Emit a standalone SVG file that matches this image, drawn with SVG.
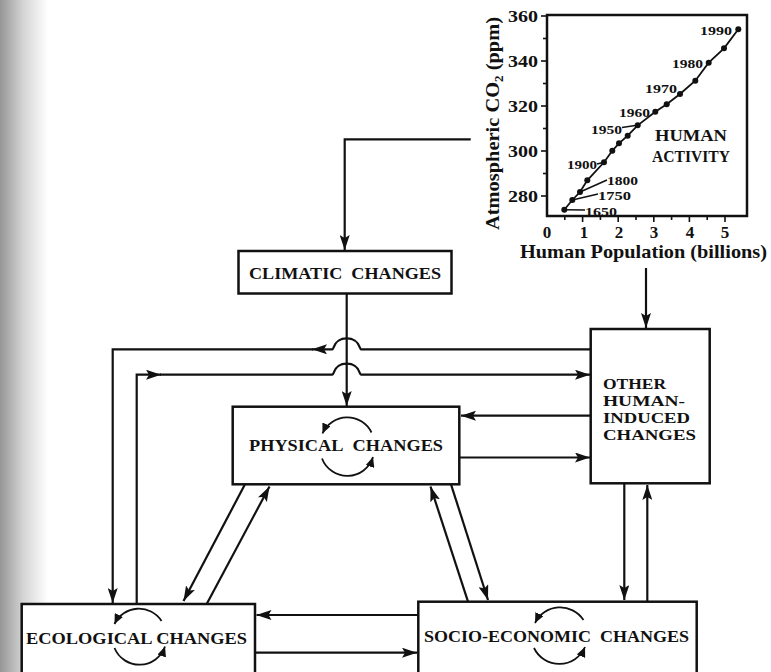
<svg xmlns="http://www.w3.org/2000/svg" width="771" height="672" viewBox="0 0 771 672">
<defs>
<linearGradient id="edge" x1="0" y1="0" x2="1" y2="0">
<stop offset="0" stop-color="#969696"/>
<stop offset="0.5" stop-color="#d6d6d6"/>
<stop offset="1" stop-color="#ffffff"/>
</linearGradient>
<marker id="ah" viewBox="0 0 15 10" refX="15" refY="5" markerWidth="15" markerHeight="10" markerUnits="userSpaceOnUse" orient="auto">
<path d="M0,0 L15,5 L0,10 L3,5 z" fill="#111"/>
</marker>
<marker id="sh" viewBox="0 0 10 9" refX="10" refY="4.5" markerWidth="10" markerHeight="9" markerUnits="userSpaceOnUse" orient="auto">
<path d="M0,0 L10,4.5 L0,9 z" fill="#111"/>
</marker>
</defs>
<style>
.box{fill:#fff;stroke:#111;stroke-width:2.5}
.lbl{font-family:"Liberation Serif","Times New Roman",serif;font-weight:bold;font-size:17px;fill:#111}
.olbl{font-family:"Liberation Serif","Times New Roman",serif;font-weight:bold;font-size:14.5px;fill:#111}
.ch{font-family:"Liberation Serif","Times New Roman",serif;font-weight:bold;fill:#111}
.a{fill:none;stroke:#111;stroke-width:2.2;marker-end:url(#ah)}
.loop{fill:none;stroke:#111;stroke-width:1.8;marker-end:url(#sh)}
.ax{fill:none;stroke:#111;stroke-width:2.5}
.tk{stroke:#111;stroke-width:1.6}
.dot{fill:#111}
</style>
<rect x="0" y="0" width="771" height="672" fill="#fff"/>
<rect x="0" y="0" width="48" height="672" fill="url(#edge)"/>

<g id="chart">
<rect class="ax" x="547" y="15" width="200" height="201"/>
<g class="tk">
<line x1="541" y1="16" x2="547" y2="16"/><line x1="543" y1="38.5" x2="547" y2="38.5"/>
<line x1="541" y1="61" x2="547" y2="61"/><line x1="543" y1="83.5" x2="547" y2="83.5"/>
<line x1="541" y1="106" x2="547" y2="106"/><line x1="543" y1="128.5" x2="547" y2="128.5"/>
<line x1="541" y1="151" x2="547" y2="151"/><line x1="543" y1="173.5" x2="547" y2="173.5"/>
<line x1="541" y1="196" x2="547" y2="196"/>
<line x1="582.6" y1="216" x2="582.6" y2="222"/><line x1="618.2" y1="216" x2="618.2" y2="222"/>
<line x1="653.8" y1="216" x2="653.8" y2="222"/><line x1="689.4" y1="216" x2="689.4" y2="222"/>
<line x1="725" y1="216" x2="725" y2="222"/>
<line x1="564.8" y1="216" x2="564.8" y2="220"/><line x1="600.4" y1="216" x2="600.4" y2="220"/>
<line x1="636" y1="216" x2="636" y2="220"/><line x1="671.6" y1="216" x2="671.6" y2="220"/>
<line x1="707.2" y1="216" x2="707.2" y2="220"/>
</g>
<g class="ch" font-size="17" text-anchor="end">
<text x="538" y="21.5" textLength="30" lengthAdjust="spacingAndGlyphs">360</text>
<text x="538" y="66.5" textLength="30" lengthAdjust="spacingAndGlyphs">340</text>
<text x="538" y="111.5" textLength="30" lengthAdjust="spacingAndGlyphs">320</text>
<text x="538" y="156.5" textLength="30" lengthAdjust="spacingAndGlyphs">300</text>
<text x="538" y="201.5" textLength="30" lengthAdjust="spacingAndGlyphs">280</text>
</g>
<g class="ch" font-size="17" text-anchor="middle">
<text x="547" y="237.5">0</text>
<text x="584" y="237.5">1</text>
<text x="619" y="237.5">2</text>
<text x="654" y="237.5">3</text>
<text x="690" y="237.5">4</text>
<text x="725" y="237.5">5</text>
</g>
<text class="ch" font-size="19" x="520" y="257.5" textLength="247" lengthAdjust="spacingAndGlyphs">Human Population (billions)</text>
<text class="ch" font-size="19" transform="translate(499,230) rotate(-90)" textLength="213" lengthAdjust="spacingAndGlyphs">Atmospheric CO<tspan font-size="12" dy="4">2</tspan><tspan dy="-4"> (ppm)</tspan></text>
<text class="ch" font-size="17" x="655" y="141" textLength="72" lengthAdjust="spacingAndGlyphs">HUMAN</text>
<text class="ch" font-size="17" x="652" y="161.5" textLength="78" lengthAdjust="spacingAndGlyphs">ACTIVITY</text>
<polyline fill="none" stroke="#111" stroke-width="1.8" points="564.3,209.7 572.3,200 580,192 587.3,180.3 604,162.3 612.3,150.7 619,143.3 627.7,135.7 637.7,125.3 655.3,111.7 666.7,104.3 680,94 695.3,80.7 708.7,62.7 724,48.3 738.3,29.3"/>
<g class="dot">
<circle cx="564.3" cy="209.7" r="3"/><circle cx="572.3" cy="200" r="3"/><circle cx="580" cy="192" r="3"/>
<circle cx="587.3" cy="180.3" r="3"/><circle cx="604" cy="162.3" r="3"/><circle cx="612.3" cy="150.7" r="3"/>
<circle cx="619" cy="143.3" r="3"/><circle cx="627.7" cy="135.7" r="3"/><circle cx="637.7" cy="125.3" r="3"/>
<circle cx="655.3" cy="111.7" r="3"/><circle cx="666.7" cy="104.3" r="3"/><circle cx="680" cy="94" r="3"/>
<circle cx="695.3" cy="80.7" r="3"/><circle cx="708.7" cy="62.7" r="3"/><circle cx="724" cy="48.3" r="3"/>
<circle cx="738.3" cy="29.3" r="3"/>
</g>
<g stroke="#111" stroke-width="1.4">
<line x1="622" y1="127.5" x2="637" y2="125.3"/>
<line x1="597" y1="164" x2="604" y2="162.3"/>
<line x1="580" y1="192" x2="607" y2="180"/>
<line x1="572.3" y1="200" x2="598" y2="194"/>
<line x1="564.3" y1="209.7" x2="585" y2="210"/>
</g>
<g class="ch" font-size="13.5">
<text x="700" y="35" textLength="32" lengthAdjust="spacingAndGlyphs">1990</text>
<text x="672" y="68" textLength="31" lengthAdjust="spacingAndGlyphs">1980</text>
<text x="645" y="92.5" textLength="32" lengthAdjust="spacingAndGlyphs">1970</text>
<text x="619" y="116.5" textLength="31" lengthAdjust="spacingAndGlyphs">1960</text>
<text x="591" y="133.5" textLength="31" lengthAdjust="spacingAndGlyphs">1950</text>
<text x="567" y="168.5" textLength="30" lengthAdjust="spacingAndGlyphs">1900</text>
<text x="607" y="184.5" textLength="31" lengthAdjust="spacingAndGlyphs">1800</text>
<text x="598" y="200" textLength="33" lengthAdjust="spacingAndGlyphs">1750</text>
<text x="585" y="215.5" textLength="32" lengthAdjust="spacingAndGlyphs">1650</text>
</g>
</g>

<g id="climatic">
<rect class="box" x="238.5" y="251" width="213" height="42.5"/>
<text class="lbl" x="249" y="279" textLength="192" lengthAdjust="spacingAndGlyphs">CLIMATIC&#160; CHANGES</text>
</g>

<g id="physical">
<rect class="box" x="232.7" y="406.7" width="226.6" height="77.6"/>
<path class="loop" d="M371.5,432.5 A27,27 0 0 0 322.5,433.5"/>
<path class="loop" d="M322,458.5 A27,27 0 0 0 373,457"/>
<text class="lbl" x="249" y="450.5" textLength="194" lengthAdjust="spacingAndGlyphs">PHYSICAL&#160; CHANGES</text>
</g>

<g id="other">
<rect class="box" x="590.7" y="329" width="119" height="154.3"/>
<text class="olbl" x="603" y="389" textLength="63" lengthAdjust="spacingAndGlyphs">OTHER</text>
<text class="olbl" x="603" y="405.5" textLength="82" lengthAdjust="spacingAndGlyphs">HUMAN-</text>
<text class="olbl" x="603" y="422.5" textLength="87" lengthAdjust="spacingAndGlyphs">INDUCED</text>
<text class="olbl" x="603" y="439.5" textLength="93" lengthAdjust="spacingAndGlyphs">CHANGES</text>
</g>

<g id="ecological">
<rect class="box" x="21.7" y="604" width="233.3" height="90"/>
<path class="loop" d="M161.5,621 A27,27 0 0 0 114.5,624"/>
<path class="loop" d="M114.5,648 A27,27 0 0 0 165,646.5"/>
<text class="lbl" x="26" y="644" textLength="221" lengthAdjust="spacingAndGlyphs">ECOLOGICAL CHANGES</text>
</g>

<g id="socio">
<rect class="box" x="418.3" y="601.7" width="278.4" height="92"/>
<path class="loop" d="M583.5,620 A28,28 0 0 0 535,623"/>
<path class="loop" d="M534,648 A28,28 0 0 0 585,647"/>
<text class="lbl" x="424" y="641.7" textLength="265" lengthAdjust="spacingAndGlyphs">SOCIO-ECONOMIC&#160; CHANGES</text>
</g>

<g id="connectors">
<path class="a" d="M470.7,139.3 H344.7 V250"/>
<path class="a" d="M646,268 V328"/>
<path class="a" d="M346.7,293.5 V406"/>
<path class="a" d="M590.7,349.3 H361 C359,349.3 360,338.3 346.7,338.3 C333.4,338.3 334.4,349.3 332.4,349.3 H312"/>
<path class="a" d="M313,349.3 H112.7 V603"/>
<path class="a" d="M136.7,604 V374.7 H161"/>
<path class="a" d="M160,374.7 H332.4 C334.4,374.7 333.4,363.7 346.7,363.7 C360,363.7 359,374.7 361,374.7 H590"/>
<path class="a" d="M590.7,415.7 H461"/>
<path class="a" d="M459.3,457.5 H590"/>
<path class="a" d="M245,484.3 L183.5,601"/>
<path class="a" d="M206.7,604 L269.5,486.5"/>
<path class="a" d="M451,484.3 L488,600"/>
<path class="a" d="M468,601.7 L430.5,486.5"/>
<path class="a" d="M624.3,483.3 V600"/>
<path class="a" d="M647.3,601.7 V485"/>
<path class="a" d="M418.3,615 H256.5"/>
<path class="a" d="M255,652.7 H417"/>
</g>
</svg>
